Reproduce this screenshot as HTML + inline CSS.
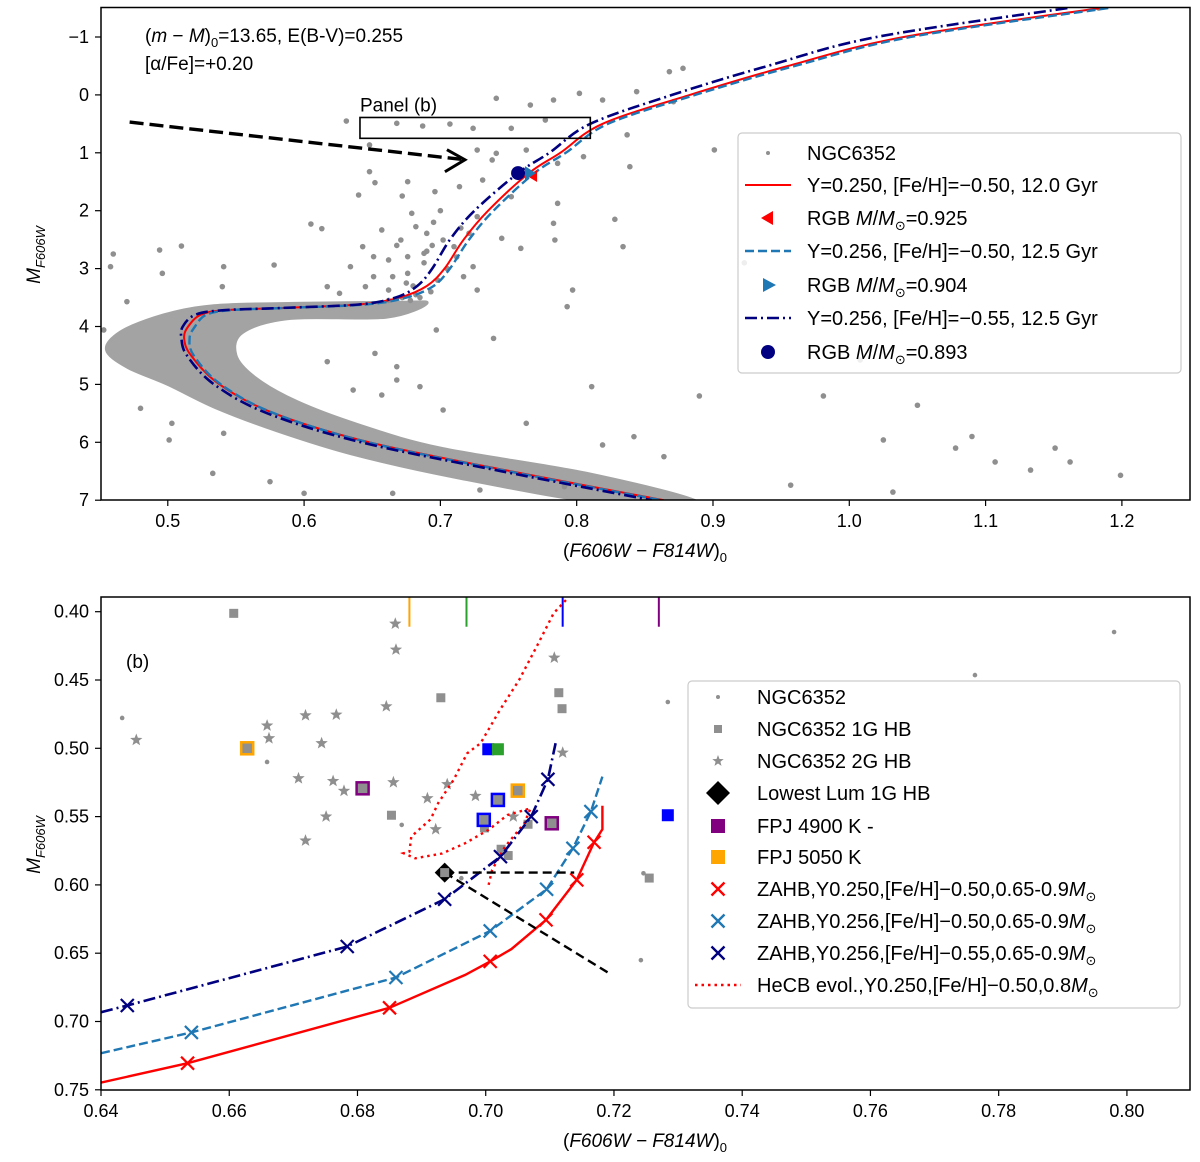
<!DOCTYPE html>
<html><head><meta charset="utf-8">
<style>
html,body{margin:0;padding:0;background:#fff;}
svg{display:block;font-family:"Liberation Sans","DejaVu Sans",sans-serif;}
</style></head>
<body>
<svg id="fig" width="1200" height="1162" viewBox="0 0 1200 1162" xmlns="http://www.w3.org/2000/svg">
<defs>
<clipPath id="clipA"><rect x="101" y="7.5" width="1089" height="492.5"/></clipPath>
<clipPath id="clipB"><rect x="101" y="597" width="1089" height="493"/></clipPath>
</defs>
<g id="panelA"></g>
<g id="panelB"></g>
</svg>
<script>
// ---------- Panel A data ----------
const isoMags = [-1.5,-1.0,-0.5,0,0.5,1.0,1.35,2.0,2.5,3.0,3.3,3.5,3.62,3.68,3.72,3.8,4.0,4.2,4.5,5.0,5.5,6.0,6.5,7.0];
const isoRed = [1.184,1.04,0.955,0.883,0.819,0.788,0.765,0.735,0.717,0.703,0.690,0.670,0.640,0.583,0.541,0.524,0.515,0.512,0.517,0.538,0.578,0.648,0.752,0.864];
const isoBlue = [1.19,1.045,0.96,0.887,0.823,0.792,0.769,0.739,0.721,0.707,0.695,0.675,0.645,0.585,0.545,0.528,0.520,0.516,0.519,0.539,0.578,0.647,0.750,0.862];
const isoDark = [1.16,1.02,0.94,0.87,0.810,0.780,0.757,0.725,0.707,0.694,0.683,0.667,0.640,0.583,0.54,0.52,0.511,0.510,0.514,0.534,0.573,0.642,0.745,0.855];
const cloudColors = [0.60,0.55,0.52,0.49,0.465,0.455,0.47,0.50,0.535,0.58,0.635,0.71,0.82,0.89,0.81,0.70,0.64,0.595,0.565,0.55,0.555,0.59,0.66,0.69,0.67];
const cloudMags = [3.6,3.62,3.68,3.85,4.1,4.4,4.7,5.0,5.4,5.8,6.2,6.6,7.05,7.05,6.55,6.1,5.7,5.3,4.9,4.5,4.1,3.86,3.84,3.6,3.58];
const starColors = [0.631,0.668,0.687,0.707,0.724,0.752,0.777,0.783,0.802,0.741,0.819,0.766,0.727,0.741,0.763,0.738,0.786,0.805,0.839,0.648,0.648,0.676,0.652,0.640,0.672,0.696,0.714,0.731,0.752,0.786,0.727,0.679,0.657,0.682,0.690,0.671,0.688,0.702,0.710,0.721,0.676,0.662,0.651,0.643,0.665,0.676,0.651,0.645,0.662,0.634,0.617,0.626,0.724,0.717,0.727,0.745,0.759,0.783,0.784,0.828,0.834,0.797,0.793,0.811,0.605,0.613,0.578,0.541,0.540,0.510,0.494,0.460,0.458,0.496,0.470,0.453,0.697,0.739,0.652,0.668,0.668,0.685,0.636,0.617,0.657,0.702,0.763,0.819,0.842,0.864,0.480,0.503,0.501,0.541,0.533,0.575,0.600,0.665,0.729,0.791,0.868,0.878,0.844,0.871,1.183,0.837,0.901,1.008,0.981,0.923,0.890,1.025,1.032,1.078,1.090,1.133,1.151,1.199,1.107,1.162,1.050,0.957,0.700,0.715,0.690,0.705,0.695,0.712,0.680,0.668,0.685,0.693,0.678,0.698,0.682,0.672,0.688,0.694,0.662,0.675];
const starMags = [0.451,0.491,0.537,0.503,0.577,0.577,0.434,0.088,-0.027,0.059,0.088,0.175,0.952,1.009,0.952,1.124,1.182,1.067,1.24,0.865,1.326,1.499,1.516,1.729,1.746,1.671,1.585,1.47,1.758,1.873,2.103,2.045,2.333,2.276,2.391,2.506,2.736,2.506,2.621,2.391,2.794,2.851,2.794,2.621,3.139,3.082,3.139,3.312,3.37,2.967,3.312,3.427,2.967,3.139,3.37,2.477,2.65,2.218,2.506,2.149,2.621,3.37,3.657,5.039,2.23,2.31,2.938,2.967,3.312,2.61,2.679,2.748,2.967,3.082,3.571,4.06,4.06,4.205,4.464,4.694,4.924,5.039,5.097,4.607,5.183,5.442,5.672,6.046,5.903,6.248,5.413,5.672,5.96,5.845,6.536,6.68,6.881,6.881,6.824,6.766,-0.401,-0.459,-0.056,0.117,-1.5,0.69,0.95,4.58,5.2,2.9,5.2,5.96,6.86,6.1,5.9,6.48,6.1,6.57,6.34,6.34,5.36,6.74,2.0,2.3,2.7,3.0,2.2,2.8,3.3,2.6,3.5,3.4,3.55,3.2,3.45,3.5,2.9,2.6,3.55,3.25];
const rgbMarkerColors = [0.768,0.765,0.757];
const rgbMarkerMags = [1.40,1.35,1.35];
const xTicksA = [0.5,0.6,0.7,0.8,0.9,1.0,1.1,1.2];
const xTickLabelsA = ["0.5","0.6","0.7","0.8","0.9","1.0","1.1","1.2"];
const yTicksA = [-1,0,1,2,3,4,5,6,7];
const yTickLabelsA = ["\u22121","0","1","2","3","4","5","6","7"];

// ---------- Panel B data ----------
const zahbRedC = [0.64,0.6535,0.6850,0.6968,0.7007,0.704,0.7094,0.7142,0.7169,0.7182,0.7182];
const zahbRedM = [0.7447,0.7305,0.690,0.6659,0.656,0.647,0.6256,0.5963,0.5688,0.5593,0.542];
const zahbRedX = [1,2,4,6,7,8];
const zahbBlueC = [0.64,0.6541,0.6860,0.7007,0.7095,0.7136,0.7164,0.7182];
const zahbBlueM = [0.7232,0.708,0.6678,0.6337,0.6032,0.5732,0.5463,0.5207];
const zahbDarkC = [0.64,0.6441,0.6784,0.6936,0.7023,0.7071,0.7097,0.7109];
const zahbDarkM = [0.6932,0.6883,0.6451,0.6105,0.5793,0.55,0.5227,0.4963];
const hecbC = [0.7125,0.7106,0.7082,0.7052,0.7022,0.6992,0.6971,0.695,0.6926,0.6914,0.6884,0.6881,0.6872,0.689,0.6932,0.6968,0.7004,0.7034,0.7070,0.7060,0.7030,0.7010,0.7004];
const hecbM = [0.3915,0.401,0.4232,0.45,0.472,0.4963,0.5037,0.523,0.540,0.552,0.5646,0.5756,0.5768,0.5805,0.577,0.5695,0.5598,0.5488,0.5439,0.555,0.572,0.589,0.601];
const hb1gC = [0.6607,0.6930,0.7114,0.7119,0.6853,0.6998,0.7024,0.7035,0.7066,0.7255];
const hb1gM = [0.4012,0.463,0.4593,0.471,0.549,0.5583,0.5739,0.5785,0.5556,0.595];
const hb2gC = [0.6455,0.6659,0.6662,0.6628,0.6719,0.6767,0.6744,0.6708,0.6762,0.6779,0.6751,0.6719,0.6845,0.6859,0.6860,0.6856,0.6909,0.6940,0.6922,0.6984,0.7043,0.7107,0.7120];
const hb2gM = [0.4939,0.4834,0.4927,0.5,0.4759,0.4754,0.4963,0.522,0.524,0.5312,0.55,0.5676,0.4693,0.4088,0.4278,0.5249,0.5366,0.5263,0.5593,0.5349,0.55,0.4337,0.5032];
const dotC = [0.6433,0.6659,0.6869,0.7284,0.7242,0.7246,0.6962,0.7980,0.7763];
const dotM = [0.4778,0.5100,0.5561,0.4661,0.6551,0.5915,0.5951,0.4149,0.4464];
const fpjC = [0.6628,0.6808,0.7019,0.7050,0.6997,0.7103];
const fpjM = [0.5,0.5293,0.5378,0.531,0.5524,0.5549];
const fpjEdge = ["#ffa500","#800080","#0000ff","#ffa500","#0000ff","#800080"];
const solidSqC = [0.7004,0.7019,0.7284];
const solidSqM = [0.5007,0.5007,0.549];
const solidSqCol = ["#0000ff","#2ca02c","#0000ff"];
const diamondC = 0.6936, diamondM = 0.591;
const hLineC = [0.6936,0.7138], diagLineC = [0.6936,0.719], diagLineM = [0.591,0.664];
const vTickC = [0.6881,0.6970,0.7120,0.7270];
const vTickCol = ["#ffa500","#2ca02c","#0000ff","#800080"];
const xTicksB = [0.64,0.66,0.68,0.70,0.72,0.74,0.76,0.78,0.80];
const xTickLabelsB = ["0.64","0.66","0.68","0.70","0.72","0.74","0.76","0.78","0.80"];
const yTicksB = [0.40,0.45,0.50,0.55,0.60,0.65,0.70,0.75];
const yTickLabelsB = ["0.40","0.45","0.50","0.55","0.60","0.65","0.70","0.75"];

// ---------- helpers ----------
const NS = "http://www.w3.org/2000/svg";
function sxA(c){return 101+(c-0.451)*1363;}
function syA(m){return 37+(m+1)*57.9;}
function sxB(c){return 101+(c-0.64)*6412;}
function syB(m){return 611.7+(m-0.40)*1366;}
function mk(tag, attrs, parent){
  const e = document.createElementNS(NS, tag);
  for (const k in attrs) e.setAttribute(k, attrs[k]);
  parent.appendChild(e); return e;
}
function smooth(pts, closed){
  const n = pts.length; let d = "M"+pts[0][0].toFixed(1)+","+pts[0][1].toFixed(1);
  const get = i => closed ? pts[(i+n)%n] : pts[Math.max(0,Math.min(n-1,i))];
  const last = closed ? n : n-1;
  for (let i=0;i<last;i++){
    const p0=get(i-1),p1=get(i),p2=get(i+1),p3=get(i+2);
    const c1=[p1[0]+(p2[0]-p0[0])/6,p1[1]+(p2[1]-p0[1])/6];
    const c2=[p2[0]-(p3[0]-p1[0])/6,p2[1]-(p3[1]-p1[1])/6];
    d+=" C"+c1[0].toFixed(1)+","+c1[1].toFixed(1)+" "+c2[0].toFixed(1)+","+c2[1].toFixed(1)+" "+p2[0].toFixed(1)+","+p2[1].toFixed(1);
  }
  return d+(closed?" Z":"");
}
function poly(pts){return "M"+pts.map(p=>p[0].toFixed(1)+","+p[1].toFixed(1)).join(" L");}
function text(parent, x, y, s, attrs){
  const t = mk("text", Object.assign({x:x,y:y,"font-size":"18"}, attrs||{}), parent);
  t.textContent = s; return t;
}
function crossPath(x,y,r){return `M${x-r},${y-r}L${x+r},${y+r}M${x-r},${y+r}L${x+r},${y-r}`;}
function starPath(x,y,r){
  let d="";
  for(let i=0;i<10;i++){const a=-Math.PI/2+i*Math.PI/5;const rr=i%2?r*0.42:r;d+=(i?"L":"M")+(x+rr*Math.cos(a)).toFixed(1)+","+(y+rr*Math.sin(a)).toFixed(1);}
  return d+"Z";
}
function msun(t, pre, post){
  const a = mk("tspan",{},t); a.textContent = pre;
  const b = mk("tspan",{"font-style":"italic"},t); b.textContent = "M";
  const c = mk("tspan",{},t); c.textContent = "/";
  const d = mk("tspan",{"font-style":"italic"},t); d.textContent = "M";
  const e = mk("tspan",{"font-size":"13","dy":"5"},t); e.textContent = "\u2299";
  const f = mk("tspan",{"dy":"-5"},t); f.textContent = post;
}

// ---------- Panel A ----------
const A = document.getElementById("panelA");
const gA = mk("g",{"clip-path":"url(#clipA)"},A);


const cloud = mk("path",{d:smooth(cloudColors.map((c,i)=>[sxA(c),syA(cloudMags[i])]),true),fill:"#a3a3a3",stroke:"#a3a3a3","stroke-width":"3"},gA);


starColors.forEach((c,i)=>{
  const p = mk("circle",{cx:sxA(c),cy:syA(starMags[i]),r:2.8,fill:"#8f8f8f"},gA);
  
  
});
function isoPath(arr){return smooth(arr.map((c,i)=>[sxA(c),syA(isoMags[i])]),false);}
const l1 = mk("path",{d:isoPath(isoRed),fill:"none",stroke:"#ff0000","stroke-width":"2"},gA);


const l2 = mk("path",{d:isoPath(isoBlue),fill:"none",stroke:"#1f77b4","stroke-width":"2.4","stroke-dasharray":"9,4"},gA);


const l3 = mk("path",{d:isoPath(isoDark),fill:"none",stroke:"#000080","stroke-width":"2.6","stroke-dasharray":"12,4,2,4"},gA);


(function(){
  let x=sxA(rgbMarkerColors[0]), y=syA(rgbMarkerMags[0]);
  const m1=mk("path",{d:`M${x-6},${y}L${x+4},${y-6}L${x+4},${y+6}Z`,fill:"#ff0000"},gA);
  
  
  x=sxA(rgbMarkerColors[1]); y=syA(rgbMarkerMags[1]);
  const m2=mk("path",{d:`M${x+7},${y}L${x-4},${y-7}L${x-4},${y+7}Z`,fill:"#1f77b4"},gA);
  
  
  const m3=mk("circle",{cx:sxA(rgbMarkerColors[2]),cy:syA(rgbMarkerMags[2]),r:7,fill:"#000080"},gA);
  
  
})();
const box = mk("rect",{x:sxA(0.641),y:syA(0.39),width:sxA(0.810)-sxA(0.641),height:syA(0.75)-syA(0.39),fill:"none",stroke:"#000","stroke-width":"1.6"},gA);


const pbl = text(gA, sxA(0.641), syA(0.39)-6, "Panel (b)", {"font-size":"19"});


const arr = mk("path",{d:`M${sxA(0.472)},${syA(0.47)}L${sxA(0.718)},${syA(1.12)}`,stroke:"#000","stroke-width":"3.4","stroke-dasharray":"14,6",fill:"none"},gA);


const ah = mk("path",{d:`M${sxA(0.718)-18},${syA(1.12)-10}L${sxA(0.718)},${syA(1.12)}L${sxA(0.718)-20},${syA(1.12)+12}`,stroke:"#000","stroke-width":"3",fill:"none"},gA);


const an1 = text(A,145,42,"",{"font-size":"19"});


(function(){const a=mk("tspan",{},an1);a.textContent="(";const b=mk("tspan",{"font-style":"italic"},an1);b.textContent="m";const c=mk("tspan",{},an1);c.textContent=" \u2212 ";const d=mk("tspan",{"font-style":"italic"},an1);d.textContent="M";const e=mk("tspan",{},an1);e.textContent=")";const f=mk("tspan",{"font-size":"13","dy":"5"},an1);f.textContent="0";const g=mk("tspan",{"dy":"-5"},an1);g.textContent="=13.65, E(B-V)=0.255";})();
const an2 = text(A,145,70,"[\u03b1/Fe]=+0.20",{"font-size":"19"});


const fA = mk("rect",{x:101,y:7.5,width:1089,height:492.5,fill:"none",stroke:"#000","stroke-width":"1.5"},A);


xTicksA.forEach((v,i)=>{
  const x=sxA(v);
  const t=mk("line",{x1:x,x2:x,y1:500,y2:506,stroke:"#000","stroke-width":"1.2"},A);
  
  
  const l=text(A,x,527,xTickLabelsA[i],{"text-anchor":"middle"});
  
  
});
yTicksA.forEach((v,i)=>{
  const y=syA(v);
  const t=mk("line",{x1:95,x2:101,y1:y,y2:y,stroke:"#000","stroke-width":"1.2"},A);
  
  
  const l=text(A,89,y+6,yTickLabelsA[i],{"text-anchor":"end"});
  
  
});
function xTitle(parent,x,y,name){
  const t=text(parent,x,y,"",{"text-anchor":"middle","font-size":"19"});
  
  
  const a=mk("tspan",{},t);a.textContent="(";
  const b=mk("tspan",{"font-style":"italic"},t);b.textContent="F606W \u2212 F814W";
  const c=mk("tspan",{},t);c.textContent=")";
  const d=mk("tspan",{"font-size":"13","dy":"5"},t);d.textContent="0";
}
function yTitle(parent,x,y,name){
  const t=text(parent,0,0,"",{"text-anchor":"middle","font-size":"19","transform":`translate(${x},${y}) rotate(-90)`});
  
  
  const a=mk("tspan",{"font-style":"italic"},t);a.textContent="M";
  const b=mk("tspan",{"font-style":"italic","font-size":"13","dy":"5"},t);b.textContent="F606W";
}
xTitle(A,645,557,'x-axis-title-a');
yTitle(A,40,255,'y-axis-title-a');
(function(){
  const g=mk("g",{},A);
  
  
  mk("rect",{x:738,y:133,width:443,height:240,rx:4,fill:"#fff","fill-opacity":"0.85",stroke:"#cccccc","stroke-width":"1.2"},g);
  const rows=[153,185,218,251,285,318,352];
  const sx=768;
  mk("circle",{cx:sx,cy:rows[0],r:2,fill:"#8f8f8f"},g);
  mk("line",{x1:745,x2:791,y1:rows[1],y2:rows[1],stroke:"#ff0000","stroke-width":"2"},g);
  mk("path",{d:`M${sx-7},${rows[2]}L${sx+5},${rows[2]-7}L${sx+5},${rows[2]+7}Z`,fill:"#ff0000"},g);
  mk("line",{x1:745,x2:791,y1:rows[3],y2:rows[3],stroke:"#1f77b4","stroke-width":"2.4","stroke-dasharray":"9,4"},g);
  mk("path",{d:`M${sx+8},${rows[4]}L${sx-5},${rows[4]-7}L${sx-5},${rows[4]+7}Z`,fill:"#1f77b4"},g);
  mk("line",{x1:745,x2:791,y1:rows[5],y2:rows[5],stroke:"#000080","stroke-width":"2.4","stroke-dasharray":"12,4,2,4"},g);
  mk("circle",{cx:sx,cy:rows[6],r:7,fill:"#000080"},g);
  const labels=["NGC6352","Y=0.250, [Fe/H]=\u22120.50, 12.0 Gyr",null,"Y=0.256, [Fe/H]=\u22120.50, 12.5 Gyr",null,"Y=0.256, [Fe/H]=\u22120.55, 12.5 Gyr",null];
  const ms=["=0.925","=0.904","=0.893"]; let k=0;
  rows.forEach((y,i)=>{
    const t=text(g,807,y+7,labels[i]||"",{"font-size":"20"});
    
    
    if(!labels[i]) msun(t,"RGB ",ms[k++]);
  });
})();

// ---------- Panel B ----------
const B = document.getElementById("panelB");
const gB = mk("g",{"clip-path":"url(#clipB)"},B);


vTickC.forEach((c,i)=>{
  const l=mk("line",{x1:sxB(c),x2:sxB(c),y1:597,y2:syB(0.411),stroke:vTickCol[i],"stroke-width":"2"},gB);
  
  
});
dotC.forEach((c,i)=>{
  const p=mk("circle",{cx:sxB(c),cy:syB(dotM[i]),r:2.3,fill:"#8f8f8f"},gB);
  
  
});
hb1gC.forEach((c,i)=>{
  const x=sxB(c),y=syB(hb1gM[i]);
  const p=mk("rect",{x:x-4.5,y:y-4.5,width:9,height:9,fill:"#8f8f8f"},gB);
  
  
});
hb2gC.forEach((c,i)=>{
  const p=mk("path",{d:starPath(sxB(c),syB(hb2gM[i]),6.5),fill:"#8f8f8f"},gB);
  
  
});
fpjC.forEach((c,i)=>{
  const x=sxB(c),y=syB(fpjM[i]);
  const p=mk("rect",{x:x-6,y:y-6,width:12,height:12,fill:"#8f8f8f",stroke:fpjEdge[i],"stroke-width":"2.5"},gB);
  
  
});
solidSqC.forEach((c,i)=>{
  const x=sxB(c),y=syB(solidSqM[i]);
  const p=mk("rect",{x:x-6,y:y-6,width:12,height:12,fill:solidSqCol[i]},gB);
  
  
});
const hecb=mk("path",{d:poly(hecbC.map((c,i)=>[sxB(c),syB(hecbM[i])])),fill:"none",stroke:"#ff0000","stroke-width":"2.4","stroke-dasharray":"2.5,4"},gB);


const zr=mk("path",{d:poly(zahbRedC.map((c,i)=>[sxB(c),syB(zahbRedM[i])])),fill:"none",stroke:"#ff0000","stroke-width":"2.4"},gB);


const zb=mk("path",{d:poly(zahbBlueC.map((c,i)=>[sxB(c),syB(zahbBlueM[i])])),fill:"none",stroke:"#1f77b4","stroke-width":"2.4","stroke-dasharray":"9,4"},gB);


const zd=mk("path",{d:poly(zahbDarkC.map((c,i)=>[sxB(c),syB(zahbDarkM[i])])),fill:"none",stroke:"#000080","stroke-width":"2.6","stroke-dasharray":"12,4,2,4"},gB);


zahbRedX.forEach(i=>{
  const p=mk("path",{d:crossPath(sxB(zahbRedC[i]),syB(zahbRedM[i]),6.5),stroke:"#ff0000","stroke-width":"2.2",fill:"none"},gB);
  
  
});
zahbBlueC.forEach((c,i)=>{ if(i===0||i===zahbBlueC.length-1) return;
  const p=mk("path",{d:crossPath(sxB(c),syB(zahbBlueM[i]),6.5),stroke:"#1f77b4","stroke-width":"2.2",fill:"none"},gB);
  
  
});
zahbDarkC.forEach((c,i)=>{ if(i===0||i===zahbDarkC.length-1) return;
  const p=mk("path",{d:crossPath(sxB(c),syB(zahbDarkM[i]),6.5),stroke:"#000080","stroke-width":"2.2",fill:"none"},gB);
  
  
});
const hl=mk("line",{x1:sxB(hLineC[0]),x2:sxB(hLineC[1]),y1:syB(diamondM),y2:syB(diamondM),stroke:"#000","stroke-width":"2.4","stroke-dasharray":"9,5"},gB);


const dl=mk("line",{x1:sxB(diagLineC[0]),x2:sxB(diagLineC[1]),y1:syB(diagLineM[0]),y2:syB(diagLineM[1]),stroke:"#000","stroke-width":"2.4","stroke-dasharray":"9,5"},gB);


(function(){const x=sxB(diamondC),y=syB(diamondM);
  const d=mk("path",{d:`M${x},${y-10}L${x+10},${y}L${x},${y+10}L${x-10},${y}Z`,fill:"#000"},gB);
  
  
  const s=mk("rect",{x:x-4.5,y:y-4.5,width:9,height:9,fill:"#8f8f8f"},gB);
  
  
})();
const bl=text(B,126,668,"(b)",{"font-size":"19"});


const fB=mk("rect",{x:101,y:597,width:1089,height:493,fill:"none",stroke:"#000","stroke-width":"1.5"},B);


xTicksB.forEach((v,i)=>{
  const x=sxB(v);
  const t=mk("line",{x1:x,x2:x,y1:1090,y2:1096,stroke:"#000","stroke-width":"1.2"},B);
  
  
  const l=text(B,x,1117,xTickLabelsB[i],{"text-anchor":"middle"});
  
  
});
yTicksB.forEach((v,i)=>{
  const y=syB(v);
  const t=mk("line",{x1:95,x2:101,y1:y,y2:y,stroke:"#000","stroke-width":"1.2"},B);
  
  
  const l=text(B,89,y+6,yTickLabelsB[i],{"text-anchor":"end"});
  
  
});
xTitle(B,645,1147,'x-axis-title-b');
yTitle(B,40,845,'y-axis-title-b');
(function(){
  const g=mk("g",{},B);
  
  
  mk("rect",{x:688,y:681,width:492,height:327,rx:4,fill:"#fff","fill-opacity":"0.85",stroke:"#cccccc","stroke-width":"1.2"},g);
  const rows=[697,729,761,793,826,857,889,921,953,985];
  const sx=718;
  mk("circle",{cx:sx,cy:rows[0],r:2,fill:"#8f8f8f"},g);
  mk("rect",{x:sx-4,y:rows[1]-4,width:8,height:8,fill:"#8f8f8f"},g);
  mk("path",{d:starPath(sx,rows[2],6),fill:"#8f8f8f"},g);
  mk("path",{d:`M${sx},${rows[3]-12}L${sx+12},${rows[3]}L${sx},${rows[3]+12}L${sx-12},${rows[3]}Z`,fill:"#000"},g);
  mk("rect",{x:sx-7,y:rows[4]-7,width:14,height:14,fill:"#800080"},g);
  mk("rect",{x:sx-7,y:rows[5]-7,width:14,height:14,fill:"#ffa500"},g);
  mk("path",{d:crossPath(sx,rows[6],6.5),stroke:"#ff0000","stroke-width":"2.4",fill:"none"},g);
  mk("path",{d:crossPath(sx,rows[7],6.5),stroke:"#1f77b4","stroke-width":"2.4",fill:"none"},g);
  mk("path",{d:crossPath(sx,rows[8],6.5),stroke:"#000080","stroke-width":"2.4",fill:"none"},g);
  mk("line",{x1:695,x2:741,y1:rows[9],y2:rows[9],stroke:"#ff0000","stroke-width":"2.4","stroke-dasharray":"2.5,4"},g);
  const labels=["NGC6352","NGC6352 1G HB","NGC6352 2G HB","Lowest Lum 1G HB","FPJ 4900 K -","FPJ 5050 K",
    "ZAHB,Y0.250,[Fe/H]\u22120.50,0.65-0.9","ZAHB,Y0.256,[Fe/H]\u22120.50,0.65-0.9","ZAHB,Y0.256,[Fe/H]\u22120.55,0.65-0.9","HeCB evol.,Y0.250,[Fe/H]\u22120.50,0.8"];
  rows.forEach((y,i)=>{
    const t=text(g,757,y+7,"",{"font-size":"20"});
    
    
    const a=mk("tspan",{},t);a.textContent=labels[i];
    if(i>=6){const b=mk("tspan",{"font-style":"italic"},t);b.textContent="M";const c=mk("tspan",{"font-size":"13","dy":"5"},t);c.textContent="\u2299";}
  });
})();
</script>
</body></html>
